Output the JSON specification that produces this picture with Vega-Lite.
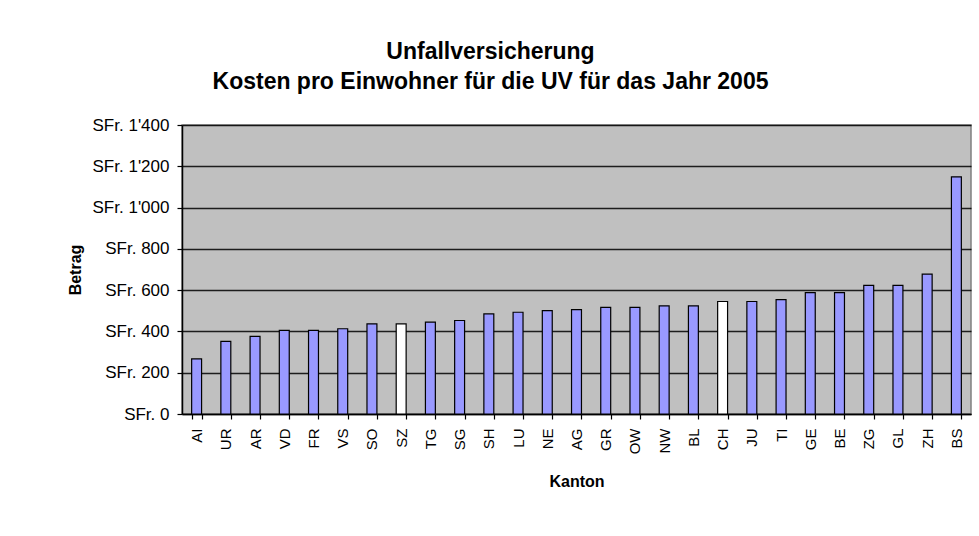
{
  "$schema": "https://vega.github.io/schema/vega-lite/v6.json",
  "autosize": {"type": "none"},
  "width": 789,
  "height": 289,
  "padding": {"left": 182, "top": 125, "right": 8, "bottom": 122},
  "background": "white",
  "title": {
    "text": ["Unfallversicherung", "Kosten pro Einwohner für die UV für das Jahr 2005"],
    "font": "Liberation Sans",
    "fontSize": 23,
    "fontWeight": "bold",
    "color": "black",
    "lineHeight": 30,
    "anchor": "middle",
    "frame": "group",
    "dx": -86,
    "offset": 22
  },
  "data": {
    "values": [
      {"Kanton": "AI", "Betrag": 267, "Hervorgehoben": "nein"},
      {"Kanton": "UR", "Betrag": 352, "Hervorgehoben": "nein"},
      {"Kanton": "AR", "Betrag": 376, "Hervorgehoben": "nein"},
      {"Kanton": "VD", "Betrag": 405, "Hervorgehoben": "nein"},
      {"Kanton": "FR", "Betrag": 405, "Hervorgehoben": "nein"},
      {"Kanton": "VS", "Betrag": 413, "Hervorgehoben": "nein"},
      {"Kanton": "SO", "Betrag": 437, "Hervorgehoben": "nein"},
      {"Kanton": "SZ", "Betrag": 437, "Hervorgehoben": "ja"},
      {"Kanton": "TG", "Betrag": 445, "Hervorgehoben": "nein"},
      {"Kanton": "SG", "Betrag": 453, "Hervorgehoben": "nein"},
      {"Kanton": "SH", "Betrag": 485, "Hervorgehoben": "nein"},
      {"Kanton": "LU", "Betrag": 493, "Hervorgehoben": "nein"},
      {"Kanton": "NE", "Betrag": 501, "Hervorgehoben": "nein"},
      {"Kanton": "AG", "Betrag": 506, "Hervorgehoben": "nein"},
      {"Kanton": "GR", "Betrag": 517, "Hervorgehoben": "nein"},
      {"Kanton": "OW", "Betrag": 517, "Hervorgehoben": "nein"},
      {"Kanton": "NW", "Betrag": 524, "Hervorgehoben": "nein"},
      {"Kanton": "BL", "Betrag": 524, "Hervorgehoben": "nein"},
      {"Kanton": "CH", "Betrag": 545, "Hervorgehoben": "ja"},
      {"Kanton": "JU", "Betrag": 545, "Hervorgehoben": "nein"},
      {"Kanton": "TI", "Betrag": 554, "Hervorgehoben": "nein"},
      {"Kanton": "GE", "Betrag": 588, "Hervorgehoben": "nein"},
      {"Kanton": "BE", "Betrag": 588, "Hervorgehoben": "nein"},
      {"Kanton": "ZG", "Betrag": 623, "Hervorgehoben": "nein"},
      {"Kanton": "GL", "Betrag": 623, "Hervorgehoben": "nein"},
      {"Kanton": "ZH", "Betrag": 678, "Hervorgehoben": "nein"},
      {"Kanton": "BS", "Betrag": 1149, "Hervorgehoben": "nein"}
    ]
  },
  "mark": {"type": "bar", "stroke": "black", "strokeWidth": 1.2},
  "encoding": {
    "x": {
      "field": "Kanton",
      "type": "nominal",
      "sort": null,
      "scale": {"paddingInner": 0.66, "paddingOuter": 0.33},
      "axis": {
        "title": "Kanton",
        "titleFont": "Liberation Sans",
        "titleFontSize": 16,
        "titleFontWeight": "bold",
        "titleColor": "black",
        "titlePadding": 20,
        "labelFont": "Liberation Sans",
        "labelFontSize": 15,
        "labelColor": "black",
        "labelAngle": -90,
        "labelPadding": 9,
        "tickBand": "extent",
        "tickSize": 5,
        "tickColor": "black",
        "tickWidth": 1.2,
        "domainColor": "black",
        "domainWidth": 1.5,
        "grid": false
      }
    },
    "y": {
      "field": "Betrag",
      "type": "quantitative",
      "scale": {"domain": [0, 1400], "nice": false},
      "axis": {
        "title": "Betrag",
        "titleFont": "Liberation Sans",
        "titleFontSize": 16,
        "titleFontWeight": "bold",
        "titleColor": "black",
        "titlePadding": 9,
        "values": [0, 200, 400, 600, 800, 1000, 1200, 1400],
        "labelExpr": "'SFr. ' + replace(format(datum.value, ','), ',', \"'\")",
        "labelFont": "Liberation Sans",
        "labelFontSize": 17,
        "labelColor": "black",
        "labelPadding": 8,
        "tickSize": 5,
        "tickColor": "black",
        "tickWidth": 1.2,
        "domainColor": "black",
        "domainWidth": 1.5,
        "grid": true,
        "gridColor": "black",
        "gridWidth": 1.5,
        "gridOpacity": 0.85
      }
    },
    "color": {
      "field": "Hervorgehoben",
      "type": "nominal",
      "scale": {"domain": ["nein", "ja"], "range": ["#9999FF", "#FFFFFF"]},
      "legend": null
    }
  },
  "config": {
    "view": {"fill": "#C0C0C0", "stroke": "#808080", "strokeWidth": 1.5}
  }
}
